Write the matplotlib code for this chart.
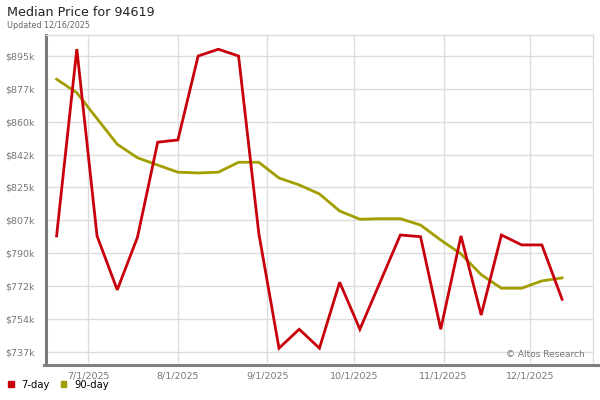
import matplotlib
matplotlib.use('Agg')
import matplotlib.pyplot as plt
from matplotlib.lines import Line2D
from matplotlib.patches import Patch
import pandas as pd

# weekly observations
dates = pd.to_datetime([
    '2025-06-20', '2025-06-27', '2025-07-04', '2025-07-11', '2025-07-18',
    '2025-07-25', '2025-08-01', '2025-08-08', '2025-08-15', '2025-08-22',
    '2025-08-29', '2025-09-05', '2025-09-12', '2025-09-19', '2025-09-26',
    '2025-10-03', '2025-10-10', '2025-10-17', '2025-10-24', '2025-10-31',
    '2025-11-07', '2025-11-14', '2025-11-21', '2025-11-28', '2025-12-05',
    '2025-12-12'])

# median price, thousands of dollars
price_7day = [799.3, 899.0, 799.3, 770.5, 798.6, 849.3, 850.5, 895.3, 898.9, 895.3,
              800.7, 739.4, 749.5, 739.4, 774.6, 749.5, 774.6, 799.8, 798.9, 749.5,
              799.3, 757.1, 799.8, 794.5, 794.5, 765.5]
price_90day = [882.9, 875.7, 861.9, 848.2, 841.0, 837.1, 833.3, 832.9, 833.3, 838.6,
               838.6, 830.2, 826.5, 821.7, 812.6, 808.2, 808.5, 808.5, 805.1, 797.1,
               789.7, 778.6, 771.4, 771.4, 775.3, 776.9]

ytick_vals = [737.4, 754.95, 772.5, 790.05, 807.6, 825.15, 842.7, 860.25, 877.8, 895.35]
ytick_labels = ['$737k', '$754k', '$772k', '$790k', '$807k', '$825k', '$842k',
                '$860k', '$877k', '$895k']
xtick_dates = pd.to_datetime(['2025-07-01', '2025-08-01', '2025-09-01',
                              '2025-10-01', '2025-11-01', '2025-12-01'])
xtick_labels = ['7/1/2025', '8/1/2025', '9/1/2025', '10/1/2025', '11/1/2025', '12/1/2025']

red = '#c8000c'
olive = '#a39e00'
grid_c = '#dcdcdc'
label_c = '#777777'

fig = plt.figure(figsize=(6, 4), dpi=100)
ax = fig.add_axes([46/600, 37/400, 547/600, 328/400])

ax.plot(dates, price_7day, color=red, lw=2.0, solid_joinstyle='miter', zorder=3)
ax.plot(dates, price_90day, color=olive, lw=2.0, solid_joinstyle='miter', zorder=2)

ax.set_xlim(pd.Timestamp('2025-06-16 08:00'), pd.Timestamp('2025-12-22 17:00'))
ax.set_ylim(731.5, 906.5)
ax.set_yticks(ytick_vals)
ax.set_yticklabels(ytick_labels)
ax.set_xticks(xtick_dates)
ax.set_xticklabels(xtick_labels)
ax.tick_params(length=0, labelsize=6.8, labelcolor=label_c)
ax.tick_params(axis='y', pad=8)
ax.tick_params(axis='x', pad=6)
ax.grid(True, color=grid_c, lw=1)
ax.set_axisbelow(True)

for s in ['top', 'right']:
    ax.spines[s].set_color(grid_c)
    ax.spines[s].set_linewidth(1)
ax.spines['left'].set_color('#7a7a7a')
ax.spines['left'].set_linewidth(2.2)
ax.spines['bottom'].set_visible(False)
fig.add_artist(Line2D([44/600, 598/600], [35/400, 35/400], color='#7f7f7f', lw=2.2,
                      transform=fig.transFigure))

ax.text(0.985, 0.025, '\u00a9 Altos Research', transform=ax.transAxes,
        ha='right', va='center', fontsize=6.5, color=label_c)

fig.text(7/600, 1 - 12/400, 'Median Price for 94619', fontsize=9.2, color='#222222',
         ha='left', va='center')
fig.text(7/600, 1 - 25/400, 'Updated 12/16/2025', fontsize=5.8, color='#666666',
         ha='left', va='center')

handles = [Patch(color=red, label='7-day'), Patch(color=olive, label='90-day')]
fig.legend(handles=handles, loc='center left', bbox_to_anchor=(8/600, 1 - 385/400),
           ncol=2, frameon=False, fontsize=7.2, handlelength=0.55, handleheight=0.55,
           handletextpad=0.8, columnspacing=1.1, borderpad=0, borderaxespad=0)

fig.savefig('out.png', dpi=100)
